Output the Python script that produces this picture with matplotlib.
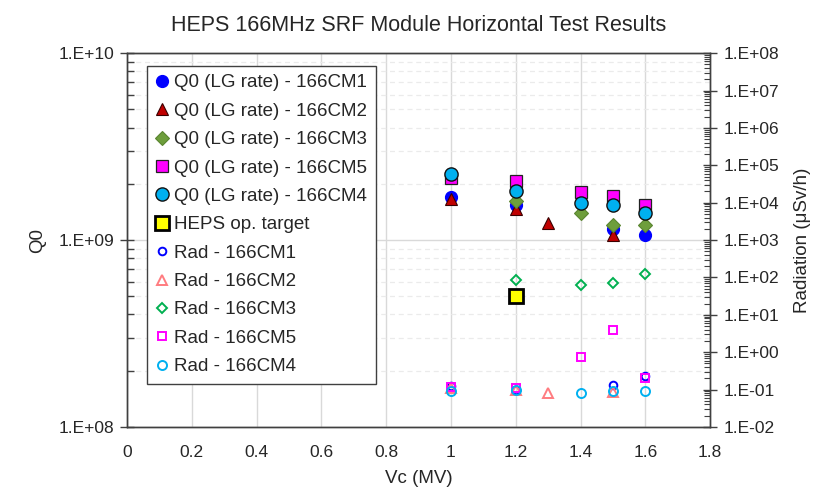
import matplotlib
matplotlib.use("Agg")
import matplotlib.pyplot as plt
import matplotlib.ticker as mticker
import numpy as np

plt.rcParams['font.family'] = ['Liberation Sans', 'DejaVu Sans']

# Q0 (left axis)
x_cm1 = [1.0, 1.2, 1.5, 1.6]
q0_cm1 = [1.71e9, 1.55e9, 1.14e9, 1.06e9]
x_cm2 = [1.0, 1.2, 1.3, 1.5]
q0_cm2 = [1.65e9, 1.46e9, 1.24e9, 1.06e9]
x_cm3 = [1.2, 1.4, 1.5, 1.6]
q0_cm3 = [1.61e9, 1.40e9, 1.21e9, 1.20e9]
x_cm5 = [1.0, 1.2, 1.4, 1.5, 1.6]
q0_cm5 = [2.14e9, 2.06e9, 1.80e9, 1.73e9, 1.55e9]
x_cm4 = [1.0, 1.2, 1.4, 1.5, 1.6]
q0_cm4 = [2.27e9, 1.84e9, 1.57e9, 1.55e9, 1.39e9]
x_target = [1.2]
q0_target = [5.0e8]

# Radiation (right axis), uSv/h
rad_cm1 = [0.125, 0.10, 0.134, 0.23]
rad_cm2 = [0.11, 0.10, 0.082, 0.085]
rad_cm3 = [87, 64, 72, 125]
rad_cm5 = [0.115, 0.11, 0.75, 4.0, 0.21]
rad_cm4 = [0.092, 0.098, 0.082, 0.092, 0.092]


def sci_fmt(v, pos):
    if v <= 0:
        return ""
    e = int(round(np.log10(v)))
    return f"1.E{e:+03d}"


fig = plt.figure(figsize=(8.2, 4.88), dpi=100)
ax = fig.add_axes([0.155, 0.125, 0.711, 0.766])
ax2 = ax.twinx()

# Q0 series
h = []
h += ax.plot(x_cm1, q0_cm1, 'o', ms=8.5, color='#0000FF', mec='#0000FF',
             label='Q0 (LG rate) - 166CM1')
h += ax.plot(x_cm2, q0_cm2, '^', ms=8.5, color='#C00000', mec='#3a0000', mew=0.8,
             label='Q0 (LG rate) - 166CM2')
h += ax.plot(x_cm3, q0_cm3, 'D', ms=7, color='#6E9E3C', mec='#5A8530', mew=0.8,
             label='Q0 (LG rate) - 166CM3')
h += ax.plot(x_cm5, q0_cm5, 's', ms=8.5, color='#FF00FF', mec='#222222', mew=0.9,
             label='Q0 (LG rate) - 166CM5')
h += ax.plot(x_cm4, q0_cm4, 'o', ms=9.5, color='#00B0F0', mec='#111111', mew=1.0,
             label='Q0 (LG rate) - 166CM4')
h += ax.plot(x_target, q0_target, 's', ms=9.5, color='#FFFF00', mec='#000000', mew=2.0,
             label='HEPS op. target')

# Radiation series
h += ax2.plot(x_cm1, rad_cm1, 'o', ms=5.5, mfc='none', mec='#0000FF', mew=1.4,
              label='Rad - 166CM1')
h += ax2.plot(x_cm2, rad_cm2, '^', ms=6.5, mfc='none', mec='#FF7C80', mew=1.4,
              label='Rad - 166CM2')
h += ax2.plot(x_cm3, rad_cm3, 'D', ms=5.5, mfc='none', mec='#00B050', mew=1.4,
              label='Rad - 166CM3')
h += ax2.plot(x_cm5, rad_cm5, 's', ms=5.5, mfc='none', mec='#FF00FF', mew=1.4,
              label='Rad - 166CM5')
h += ax2.plot(x_cm4, rad_cm4, 'o', ms=6.5, mfc='none', mec='#00B0F0', mew=1.4,
              label='Rad - 166CM4')

# axes setup
ax.set_xlim(0, 1.8)
ax.set_xticks(np.arange(0, 1.81, 0.2))
ax.xaxis.set_major_formatter(mticker.FuncFormatter(lambda v, p: f"{v:g}"))
ax.set_yscale('log')
ax.set_ylim(1e8, 1e10)
ax.yaxis.set_major_locator(mticker.LogLocator(base=10, numticks=10))
ax.yaxis.set_minor_locator(mticker.LogLocator(base=10, subs=np.arange(2, 10), numticks=20))
ax.yaxis.set_major_formatter(mticker.FuncFormatter(sci_fmt))
ax.yaxis.set_minor_formatter(mticker.NullFormatter())

ax2.set_yscale('log')
ax2.set_ylim(1e-2, 1e8)
ax2.yaxis.set_major_locator(mticker.LogLocator(base=10, numticks=20))
ax2.yaxis.set_minor_locator(mticker.LogLocator(base=10, subs=np.arange(2, 10), numticks=40))
ax2.yaxis.set_major_formatter(mticker.FuncFormatter(sci_fmt))
ax2.yaxis.set_minor_formatter(mticker.NullFormatter())

ax.grid(True, axis='x', which='major', color='#D9D9D9', lw=1.0)
ax.grid(True, axis='y', which='major', color='#D9D9D9', lw=1.0)
ax.grid(True, axis='y', which='minor', color='#EBEBEB', lw=0.9, ls=(0, (4, 3)))
ax.set_axisbelow(True)

for a in (ax, ax2):
    for s in a.spines.values():
        s.set_color('#404040')
        s.set_linewidth(1.0)

ax.tick_params(axis='x', length=0, labelsize=12.5, pad=13)
ax.tick_params(axis='y', which='major', direction='inout', length=10, width=1.0,
               labelsize=12.5, colors='#404040', pad=4)
ax.tick_params(axis='y', which='minor', direction='in', length=5, width=1.0, colors='#404040')
ax2.tick_params(axis='y', which='major', direction='inout', length=10, width=1.0,
                labelsize=12.5, colors='#404040', pad=5)
ax2.tick_params(axis='y', which='minor', direction='in', length=4, width=0.8, colors='#404040')
for lab in ax.get_xticklabels() + ax.get_yticklabels() + ax2.get_yticklabels():
    lab.set_color('#262626')

ax.set_xlabel('Vc (MV)', fontsize=13.5, color='#262626', labelpad=7)
ax.set_ylabel('Q0', fontsize=13.5, color='#262626', labelpad=9)
ax2.set_ylabel('Radiation (\u03bcSv/h)', fontsize=13.5, color='#262626', labelpad=10)
ax.set_title('HEPS 166MHz SRF Module Horizontal Test Results', fontsize=15.5,
             color='#262626', pad=16)

leg = ax2.legend(handles=h, loc='upper left', bbox_to_anchor=(0.034, 0.966),
                 fontsize=13.5, frameon=True, fancybox=False, edgecolor='#404040',
                 framealpha=1.0, handlelength=0.7, handletextpad=0.3,
                 labelspacing=0.6, borderpad=0.45, borderaxespad=0.0)
leg.get_frame().set_linewidth(1.0)
for t in leg.get_texts():
    t.set_color('#262626')

fig.savefig('out.png', dpi=100)
